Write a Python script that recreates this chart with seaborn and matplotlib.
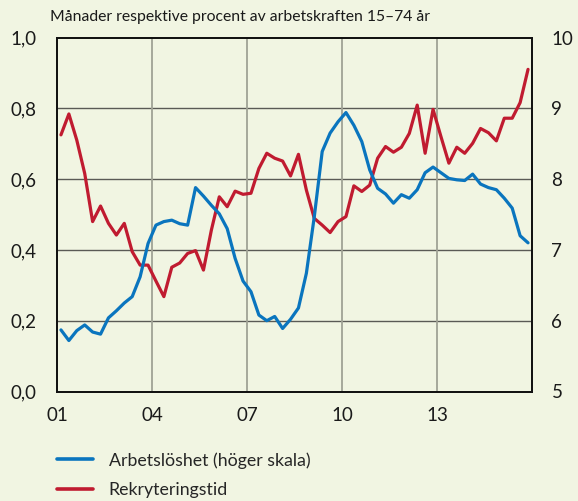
import matplotlib
matplotlib.use('Agg')
import matplotlib.pyplot as plt
import numpy as np
import pandas as pd
import seaborn as sns
from matplotlib.lines import Line2D

# quarterly data 2001Q1 - 2015Q4
quarters = pd.period_range('2001Q1', '2015Q4', freq='Q')

# Rekryteringstid, months (left scale)
rekrytering = [
    0.725, 0.784, 0.710, 0.616, 0.480, 0.524, 0.475, 0.442, 0.475, 0.395,
    0.357, 0.357, 0.312, 0.268, 0.351, 0.363, 0.390, 0.398, 0.343, 0.456,
    0.550, 0.522, 0.566, 0.557, 0.560, 0.630, 0.673, 0.659, 0.651, 0.609,
    0.670, 0.569, 0.489, 0.470, 0.449, 0.480, 0.494, 0.581, 0.565, 0.583,
    0.659, 0.692, 0.676, 0.690, 0.729, 0.809, 0.673, 0.797, 0.720, 0.645,
    0.690, 0.673, 0.701, 0.743, 0.731, 0.708, 0.772, 0.772, 0.816, 0.910,
]

# Arbetslöshet, percent (right scale)
arbetsloshet = [
    5.87, 5.72, 5.86, 5.94, 5.84, 5.81, 6.04, 6.14, 6.25, 6.34,
    6.62, 7.09, 7.35, 7.40, 7.42, 7.37, 7.35, 7.88, 7.76, 7.63,
    7.51, 7.30, 6.88, 6.56, 6.41, 6.08, 6.00, 6.06, 5.89, 6.02,
    6.18, 6.67, 7.47, 8.39, 8.65, 8.81, 8.94, 8.76, 8.53, 8.13,
    7.87, 7.79, 7.66, 7.78, 7.73, 7.85, 8.09, 8.17, 8.09, 8.01,
    7.99, 7.98, 8.07, 7.93, 7.88, 7.85, 7.73, 7.59, 7.20, 7.10,
]

tick_years = [2001, 2004, 2007, 2010, 2013]
tick_labels = ['01', '04', '07', '10', '13']
left_ticks = [0.0, 0.2, 0.4, 0.6, 0.8, 1.0]
right_ticks = [5, 6, 7, 8, 9, 10]

df = pd.DataFrame({
    'x': quarters.year + (quarters.quarter - 0.5) / 4,
    'rekrytering': rekrytering,
    'arbetsloshet': arbetsloshet,
})

bg = '#f1f5e2'
blue = '#0a75be'
red = '#c01b30'

sns.set_style('white')
plt.rcParams['font.family'] = ['Lato', 'DejaVu Sans']

fig = plt.figure(figsize=(5.78, 5.01), dpi=100, facecolor=bg)
ax = fig.add_axes([57 / 578, 1 - 391.5 / 501, (532 - 57) / 578, (391.5 - 37.5) / 501])
ax.set_facecolor(bg)
ax2 = ax.twinx()

# grid
for t in left_ticks[1:-1]:
    ax.axhline(t, color='#5a5a55', lw=1.0, zorder=1)
for t in tick_years[1:]:
    ax.axvline(t, color='#a0a295', lw=1.3, zorder=1)

sns.lineplot(data=df, x='x', y='rekrytering', ax=ax, color=red, lw=2.3, zorder=3)
sns.lineplot(data=df, x='x', y='arbetsloshet', ax=ax2, color=blue, lw=2.3, zorder=3)

ax.set_xlim(2001, 2016)
ax.set_ylim(0, 1)
ax2.set_ylim(5, 10)
ax.set_xticks(tick_years)
ax.set_xticklabels(tick_labels)
ax.set_yticks(left_ticks)
ax.set_yticklabels([f'{t:.1f}'.replace('.', ',') for t in left_ticks])
ax2.set_yticks(right_ticks)
ax2.set_yticklabels([str(t) for t in right_ticks])
ax.set_xlabel('')
ax.set_ylabel('')
ax2.set_ylabel('')
ax.tick_params(axis='both', length=0, labelsize=13.5, colors='#1a1a1a')
ax.tick_params(axis='y', pad=15)
ax.tick_params(axis='x', pad=11)
ax2.tick_params(axis='y', length=0, labelsize=13.5, colors='#1a1a1a', pad=14)

for a in (ax, ax2):
    for s in a.spines.values():
        s.set_color('#111111')
        s.set_linewidth(1.3)
    a.grid(False)

fig.text(50 / 578, 1 - 17 / 501, 'Månader respektive procent av arbetskraften 15–74 år',
         fontsize=11.3, va='center', ha='left', color='#1a1a1a')

handles = [Line2D([], [], color=blue, lw=2.6), Line2D([], [], color=red, lw=2.6)]
labels = ['Arbetslöshet (höger skala)', 'Rekryteringstid']
fig.legend(handles, labels, loc='upper left', bbox_to_anchor=(57 / 578, 1 - 452 / 501),
           frameon=False, fontsize=12.8, handlelength=2.05, handletextpad=0.85,
           labelspacing=0.75, borderaxespad=0, borderpad=0)

fig.savefig('out.png', dpi=100, facecolor=bg)
